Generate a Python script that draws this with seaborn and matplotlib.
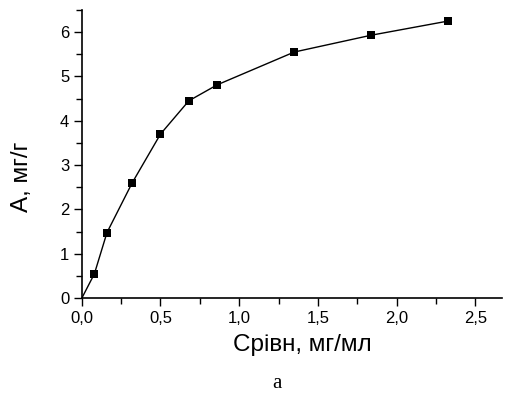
import numpy as np
import pandas as pd
import matplotlib
matplotlib.use("Agg")
import matplotlib.pyplot as plt
import seaborn as sns
from matplotlib.ticker import MultipleLocator, FuncFormatter

# дані ізотерми адсорбції
c_eq = [0.0, 0.08, 0.16, 0.32, 0.50, 0.68, 0.86, 1.35, 1.84, 2.33]
a_ads = [0.0, 0.55, 1.48, 2.60, 3.70, 4.45, 4.81, 5.55, 5.93, 6.25]

df = pd.DataFrame({"C": c_eq, "A": a_ads})

sns.set_theme(style="ticks")
plt.rcParams["font.family"] = ["Liberation Sans", "DejaVu Sans"]
plt.rcParams["text.color"] = "black"
plt.rcParams["axes.labelcolor"] = "black"

fig = plt.figure(figsize=(5.05, 3.96), dpi=100)
ax = fig.add_axes([0.162, 0.247, 0.832, 0.728])

sns.lineplot(data=df, x="C", y="A", ax=ax, color="black", linewidth=1.0)
sns.scatterplot(data=df.iloc[1:], x="C", y="A", ax=ax, color="black",
                marker="s", s=30, edgecolor="black", linewidth=0, zorder=3)

ax.set_xlim(0, 2.67)
ax.set_ylim(0, 6.5)
ax.xaxis.set_major_locator(MultipleLocator(0.5))
ax.xaxis.set_minor_locator(MultipleLocator(0.25))
ax.yaxis.set_major_locator(MultipleLocator(1))
ax.yaxis.set_minor_locator(MultipleLocator(0.5))
ax.xaxis.set_major_formatter(FuncFormatter(lambda v, p: f"{v:.1f}".replace(".", ",")))
ax.yaxis.set_major_formatter(FuncFormatter(lambda v, p: f"{v:.0f}"))

ax.tick_params(which="major", length=6, width=1, labelsize=12, colors="black",
               labelcolor="black", pad=3)
ax.tick_params(which="minor", length=4, width=1, colors="black")
for s in ["left", "bottom"]:
    ax.spines[s].set_linewidth(1.2)
    ax.spines[s].set_color("black")
sns.despine(ax=ax)

ax.set_xlabel("Срівн, мг/мл", fontsize=17.5, color="black")
ax.set_ylabel("А, мг/г", fontsize=17.5, color="black")
ax.xaxis.set_label_coords(0.525, -0.125)
ax.yaxis.set_label_coords(-0.115, 0.42)

fig.text(0.548, 0.02, "а", fontsize=15, color="black",
         family=["Liberation Serif", "DejaVu Serif"], ha="center")

fig.savefig("out.png", dpi=100)
